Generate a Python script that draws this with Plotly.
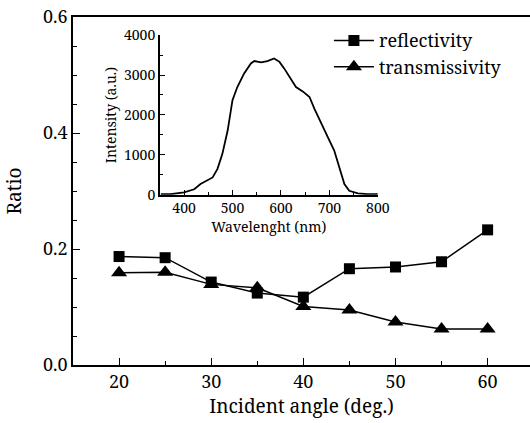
import plotly.graph_objects as go

# main plot data
angle = [20, 25, 30, 35, 40, 45, 50, 55, 60]
reflectivity = [0.187, 0.185, 0.143, 0.124, 0.117, 0.166, 0.169, 0.178, 0.233]
transmissivity = [0.159, 0.160, 0.139, 0.133, 0.101, 0.095, 0.074, 0.062, 0.062]

# inset spectrum
wavelength = [352, 372, 400, 421, 434, 445, 459, 469, 479, 490, 500, 510, 524, 538,
              545, 559, 572, 586, 597, 607, 621, 631, 645, 659, 669, 683, 697, 710,
              721, 731, 741, 759, 779, 800]
intensity = [15, 15, 60, 140, 270, 335, 435, 650, 1020, 1610, 2370, 2700, 3040, 3290,
             3350, 3315, 3350, 3415, 3330, 3160, 2870, 2700, 2590, 2450, 2160, 1780, 1440, 1110,
             690, 270, 100, 35, 15, 15]

font = "Noto Serif"

fig = go.Figure()
fig.add_trace(go.Scatter(
    x=angle, y=reflectivity, mode='lines+markers', name='reflectivity',
    line=dict(color='black', width=1.5),
    marker=dict(symbol='square', size=11, color='black'),
))
fig.add_trace(go.Scatter(
    x=angle, y=transmissivity, mode='lines+markers', name='transmissivity',
    line=dict(color='black', width=1.5),
    marker=dict(symbol='triangle-up', size=14, color='black'),
))
fig.add_trace(go.Scatter(
    x=wavelength, y=intensity, mode='lines', showlegend=False,
    line=dict(color='black', width=1.8),
    xaxis='x2', yaxis='y2',
))

axis_common = dict(showline=True, linecolor='black', linewidth=1.5, ticks='inside',
                   tickcolor='black', showgrid=False, zeroline=False, automargin=False)

fig.update_layout(
    width=530, height=423,
    margin=dict(l=73, r=0, t=17, b=58),
    plot_bgcolor='white', paper_bgcolor='white',
    font=dict(family=font, color='black', size=18),
    xaxis=dict(range=[15, 64.6], dtick=10, ticklen=7, mirror=True,
               minor=dict(dtick=5, ticklen=4, ticks='inside', tickcolor='black'),
               title=dict(text='Incident angle (deg.)', standoff=6, font=dict(size=19)),
               tickfont=dict(size=18), **axis_common),
    yaxis=dict(range=[0, 0.6], dtick=0.2, tickformat='.1f', ticklen=7,
               minor=dict(dtick=0.05, ticklen=4, ticks='inside', tickcolor='black'),
               title=dict(text='Ratio', standoff=16, font=dict(size=19)),
               tickfont=dict(size=18), **axis_common),
    xaxis2=dict(domain=[0.190, 0.667], anchor='y2', range=[350, 800], dtick=100,
                ticklen=5, minor=dict(dtick=50, ticklen=3, ticks='inside', tickcolor='black'),
                title=dict(text='Wavelenght (nm)', standoff=2, font=dict(size=14)),
                tickfont=dict(size=14), **axis_common),
    yaxis2=dict(domain=[0.489, 0.948], anchor='x2', range=[0, 4000], dtick=1000,
                ticklen=5, minor=dict(dtick=500, ticklen=3, ticks='inside', tickcolor='black'),
                title=dict(text='Intensity (a.u.)', standoff=4, font=dict(size=14)),
                tickfont=dict(size=14), **axis_common),
    legend=dict(x=0.56, y=0.985, xanchor='left', yanchor='top', bgcolor='rgba(0,0,0,0)',
                font=dict(size=18), itemwidth=40, tracegroupgap=0),
    showlegend=True,
)

fig.write_html("out.html", config={'displayModeBar': False},
               post_script="document.body.style.margin='0';")
